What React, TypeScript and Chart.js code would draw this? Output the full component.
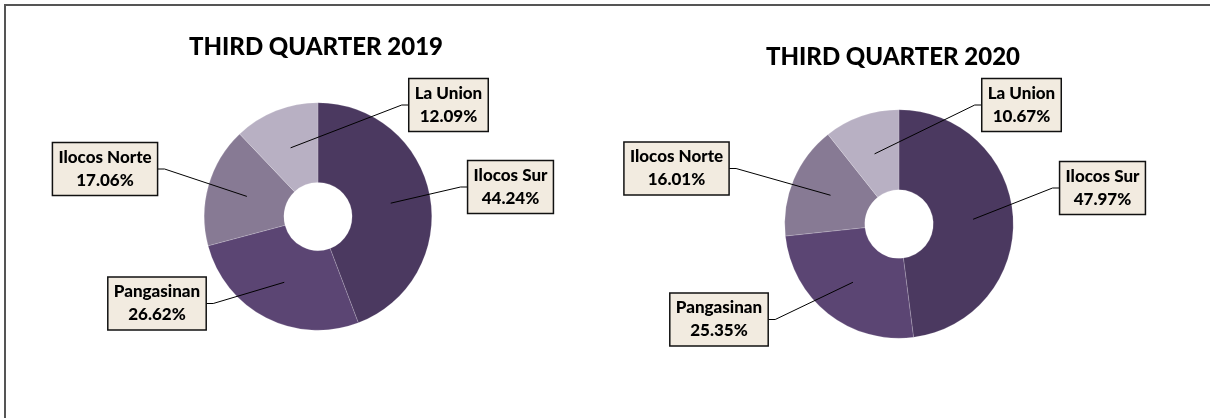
import React, { useEffect, useRef } from "react";
import { Chart, registerables } from "chart.js";

Chart.register(...registerables);

const categories = ["Ilocos Sur", "Pangasinan", "Ilocos Norte", "La Union"];
const values2019 = [44.24, 26.62, 17.06, 12.09];
const values2020 = [47.97, 25.35, 16.01, 10.67];
const titles = ["THIRD QUARTER 2019", "THIRD QUARTER 2020"];

const sliceColors = ["#4b3960", "#5b4573", "#877a94", "#b8b0c3"];

const W = 1210;
const H = 418;
const FONT = "Lato, 'Open Sans', sans-serif";

type Layout = {
  center: [number, number];
  radius: number;
  title: [number, number];
  boxes: [number, number][]; // label box centers, in category order
};

const layouts: Layout[] = [
  {
    center: [318, 216.5],
    radius: 114,
    title: [316, 47],
    boxes: [
      [510.5, 187],
      [157, 303.5],
      [105, 169],
      [448.5, 105],
    ],
  },
  {
    center: [899, 224],
    radius: 114.5,
    title: [893, 57],
    boxes: [
      [1102.5, 188],
      [719, 319.5],
      [676.5, 168.5],
      [1021.5, 105],
    ],
  },
];

const calloutPlugin = {
  id: "callouts",
  afterDraw(chart: any, _args: any, opts: any) {
    const ctx = chart.ctx as CanvasRenderingContext2D;
    const lay: Layout = opts.layout;
    const meta = chart.getDatasetMeta(0);
    const values: number[] = chart.data.datasets[0].data;
    const labels: string[] = chart.data.labels;
    ctx.save();
    ctx.fillStyle = "#000";
    ctx.textAlign = "center";
    ctx.textBaseline = "middle";
    ctx.font = `900 24px ${FONT}`;
    ctx.fillText(opts.title, lay.title[0], lay.title[1]);

    ctx.font = `900 17px ${FONT}`;
    meta.data.forEach((arc: any, i: number) => {
      const p = arc.tooltipPosition(false);
      const [cx, cy] = lay.boxes[i];
      const l1 = labels[i];
      const l2 = values[i].toFixed(2) + "%";
      const tw = Math.max(ctx.measureText(l1).width, ctx.measureText(l2).width);
      const bw = tw + 12;
      const bh = 53;
      const left = cx - bw / 2;
      const right = cx + bw / 2;
      const top = cy - bh / 2;
      // leader line
      const onLeft = p.x < cx;
      const sx = onLeft ? left : right;
      const stub = onLeft ? sx - 7 : sx + 7;
      ctx.beginPath();
      ctx.strokeStyle = "#000";
      ctx.lineWidth = 1;
      ctx.moveTo(sx, cy);
      ctx.lineTo(stub, cy);
      ctx.lineTo(p.x, p.y);
      ctx.stroke();
      // box
      ctx.fillStyle = "#f2ebe0";
      ctx.fillRect(left, top, bw, bh);
      ctx.lineWidth = 1.5;
      ctx.strokeStyle = "#111";
      ctx.strokeRect(left, top, bw, bh);
      ctx.fillStyle = "#000";
      ctx.fillText(l1, cx, cy - 11.5);
      ctx.fillText(l2, cx, cy + 11.5);
    });
    ctx.restore();
  },
};

function Doughnut({ values, title, layout }: { values: number[]; title: string; layout: Layout }) {
  const ref = useRef<HTMLCanvasElement | null>(null);
  useEffect(() => {
    if (!ref.current) return;
    const [cx, cy] = layout.center;
    const r = layout.radius;
    const chart = new Chart(ref.current, {
      type: "doughnut",
      data: {
        labels: categories,
        datasets: [
          {
            data: values,
            backgroundColor: sliceColors,
            borderColor: "rgba(255,255,255,0.35)",
            borderWidth: 0.5,
          },
        ],
      },
      options: {
        responsive: false,
        animation: false,
        cutout: "30%",
        layout: {
          padding: {
            left: cx - r,
            right: W - (cx + r),
            top: cy - r,
            bottom: H - (cy + r),
          },
        },
        plugins: {
          legend: { display: false },
          tooltip: { enabled: false },
          title: { display: false },
          callouts: { title, layout },
        } as any,
      },
      plugins: [calloutPlugin],
    });
    return () => chart.destroy();
  }, []);
  return (
    <canvas
      ref={ref}
      width={W}
      height={H}
      style={{ position: "absolute", left: 0, top: 0, width: W, height: H }}
    />
  );
}

export default function App() {
  return (
    <div
      style={{
        position: "absolute",
        left: 0,
        top: 0,
        width: W,
        height: H,
        overflow: "hidden",
        background: "#fff",
      }}
    >
      <div
        style={{
          position: "absolute",
          left: 4,
          top: 4,
          width: W + 40,
          height: H + 40,
          borderLeft: "2px solid #555",
          borderTop: "2px solid #555",
        }}
      />
      <Doughnut values={values2019} title={titles[0]} layout={layouts[0]} />
      <Doughnut values={values2020} title={titles[1]} layout={layouts[1]} />
    </div>
  );
}
